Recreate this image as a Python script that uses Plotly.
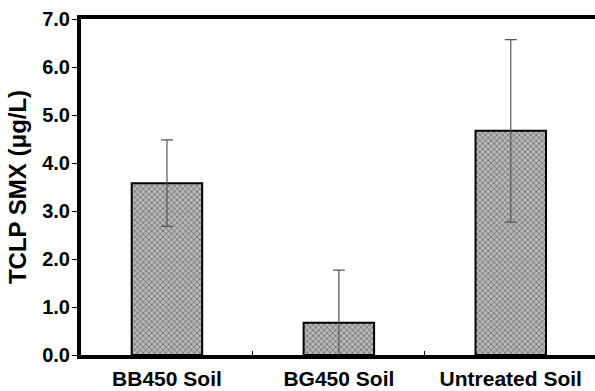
import plotly.graph_objects as go

categories = ["BB450 Soil", "BG450 Soil", "Untreated Soil"]
values = [3.58, 0.67, 4.67]
errors = [0.90, 1.10, 1.90]
y_ticks = [0, 1, 2, 3, 4, 5, 6, 7]

FONT = "Liberation Sans, Arial, sans-serif"

fig = go.Figure()
fig.add_trace(go.Bar(
    x=categories,
    y=values,
    width=0.41,
    marker=dict(
        color="#b8b8b8",
        line=dict(color="black", width=2),
        pattern=dict(shape="x", size=4, solidity=0.4, fgcolor="#333333", bgcolor="#b8b8b8"),
    ),
    error_y=dict(type="data", array=errors, visible=True, color="#555555", thickness=1.2, width=6),
))

fig.update_layout(
    width=595, height=391,
    margin=dict(l=81, r=0, t=19, b=36),
    paper_bgcolor="white", plot_bgcolor="white",
    showlegend=False,
)
fig.update_xaxes(
    range=[-0.5, 2.49],
    showline=True, linecolor="black", linewidth=4, mirror=True,
    ticks="inside", tickson="boundaries", ticklen=4, tickwidth=1, tickcolor="black",
    tickfont=dict(family=FONT, size=21, color="black", weight="bold"),
    ticklabelstandoff=2,
    showgrid=False, zeroline=False,
)
fig.update_yaxes(
    range=[0, 7],
    tickvals=y_ticks, tickformat=".1f",
    showline=True, linecolor="black", linewidth=4,
    ticks="outside", ticklen=5, tickwidth=1, tickcolor="black",
    tickfont=dict(family=FONT, size=20, color="black", weight="bold"),
    ticklabelstandoff=-2,
    title=dict(text="TCLP SMX (μg/L)", font=dict(family=FONT, size=24, color="black", weight="bold"), standoff=10),
    showgrid=False, zeroline=False,
)

fig.write_html("out.html")
